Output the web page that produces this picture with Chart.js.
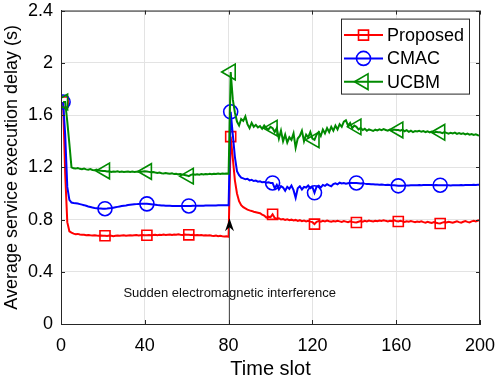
<!DOCTYPE html>
<html>
<head>
<meta charset="utf-8">
<script src="https://cdn.jsdelivr.net/npm/chart.js@4/dist/chart.umd.min.js"></script>
<style>
  html, body { margin: 0; padding: 0; background: #fff; }
  #wrap { width: 498px; height: 381px; }
</style>
</head>
<body>
<div id="wrap"><canvas id="delaychart"></canvas></div>
<script>
// time slots 1..200
const slots = Array.from({ length: 200 }, (_, i) => i + 1);

const proposed = [
  1.70, 1.15, 0.78, 0.71, 0.700, 0.692, 0.688, 0.690, 0.686, 0.684,
  0.683, 0.680, 0.682, 0.679, 0.678, 0.680, 0.677, 0.676, 0.678, 0.675,
  0.676, 0.674, 0.677, 0.675, 0.673, 0.676, 0.678, 0.675, 0.677, 0.679,
  0.676, 0.678, 0.680, 0.677, 0.679, 0.681, 0.678, 0.680, 0.682, 0.679,
  0.680, 0.682, 0.679, 0.681, 0.684, 0.680, 0.683, 0.681, 0.685, 0.682,
  0.684, 0.686, 0.682, 0.685, 0.683, 0.687, 0.684, 0.682, 0.685, 0.683,
  0.683, 0.681, 0.684, 0.680, 0.682, 0.679, 0.681, 0.678, 0.680, 0.677,
  0.679, 0.676, 0.674, 0.677, 0.673, 0.675, 0.672, 0.670, 0.671, 0.668,
  1.435, 1.27, 1.10, 1.00, 0.94, 0.91, 0.895, 0.885, 0.876, 0.870,
  0.866, 0.860, 0.856, 0.852, 0.848, 0.838, 0.830, 0.815, 0.822, 0.818,
  0.840, 0.812, 0.806, 0.810, 0.800, 0.804, 0.797, 0.802, 0.795, 0.799,
  0.793, 0.797, 0.790, 0.795, 0.788, 0.792, 0.786, 0.790, 0.784, 0.780,
  0.765, 0.782, 0.788, 0.784, 0.790, 0.786, 0.792, 0.787, 0.783, 0.789,
  0.785, 0.790, 0.786, 0.782, 0.788, 0.784, 0.780, 0.786, 0.782, 0.779,
  0.777, 0.783, 0.788, 0.784, 0.790, 0.786, 0.792, 0.788, 0.785, 0.791,
  0.787, 0.793, 0.789, 0.795, 0.790, 0.786, 0.791, 0.788, 0.794, 0.789,
  0.785, 0.790, 0.786, 0.781, 0.787, 0.783, 0.788, 0.784, 0.779, 0.785,
  0.781, 0.786, 0.780, 0.776, 0.782, 0.778, 0.774, 0.780, 0.776, 0.772,
  0.770, 0.776, 0.781, 0.777, 0.783, 0.779, 0.775, 0.781, 0.786, 0.780,
  0.776, 0.783, 0.788, 0.782, 0.778, 0.786, 0.790, 0.785, 0.792, 0.795
];

const cmac = [
  1.70, 1.45, 1.05, 0.95, 0.930, 0.926, 0.924, 0.922, 0.918, 0.914,
  0.910, 0.905, 0.900, 0.896, 0.892, 0.889, 0.887, 0.885, 0.884, 0.883,
  0.883, 0.884, 0.886, 0.888, 0.891, 0.894, 0.897, 0.900, 0.903, 0.906,
  0.908, 0.911, 0.913, 0.915, 0.917, 0.918, 0.919, 0.920, 0.921, 0.921,
  0.920, 0.919, 0.917, 0.915, 0.913, 0.911, 0.910, 0.908, 0.907, 0.906,
  0.905, 0.905, 0.904, 0.904, 0.904, 0.903, 0.903, 0.904, 0.904, 0.904,
  0.904, 0.904, 0.905, 0.905, 0.905, 0.906, 0.906, 0.906, 0.907, 0.907,
  0.907, 0.908, 0.908, 0.908, 0.909, 0.909, 0.909, 0.909, 0.910, 0.909,
  1.625, 1.45, 1.28, 1.17, 1.14, 1.12, 1.115, 1.108, 1.112, 1.100,
  1.104, 1.095, 1.098, 1.090, 1.093, 1.085, 1.088, 1.082, 1.086, 1.080,
  1.080, 1.040, 1.065, 1.030, 1.055, 1.045, 1.020, 1.050, 1.035, 1.060,
  1.025, 0.966, 1.040, 1.055, 1.030, 1.050, 1.045, 1.060, 1.040, 1.050,
  1.005, 1.052, 1.060, 1.045, 1.065, 1.058, 1.070, 1.062, 1.055, 1.072,
  1.078, 1.070, 1.082, 1.076, 1.080, 1.074, 1.078, 1.082, 1.080, 1.079,
  1.080, 1.078, 1.076, 1.078, 1.075, 1.073, 1.072, 1.070, 1.071, 1.069,
  1.068, 1.067, 1.068, 1.066, 1.065, 1.066, 1.064, 1.063, 1.062, 1.060,
  1.058, 1.058, 1.059, 1.060, 1.061, 1.060, 1.062, 1.063, 1.062, 1.063,
  1.064, 1.063, 1.064, 1.065, 1.064, 1.065, 1.064, 1.063, 1.064, 1.063,
  1.063, 1.062, 1.062, 1.063, 1.062, 1.061, 1.062, 1.063, 1.062, 1.063,
  1.064, 1.063, 1.064, 1.065, 1.064, 1.065, 1.066, 1.065, 1.066, 1.066
];

const ucbm = [
  1.70, 1.70, 1.55, 1.38, 1.20, 1.192, 1.190, 1.195, 1.188, 1.186,
  1.190, 1.184, 1.182, 1.186, 1.180, 1.178, 1.182, 1.176, 1.174, 1.172,
  1.172, 1.168, 1.170, 1.165, 1.168, 1.166, 1.169, 1.165, 1.167, 1.164,
  1.166, 1.168, 1.165, 1.167, 1.164, 1.166, 1.168, 1.165, 1.167, 1.169,
  1.168, 1.165, 1.162, 1.164, 1.160, 1.157, 1.160, 1.155, 1.152, 1.156,
  1.153, 1.150, 1.154, 1.148, 1.151, 1.146, 1.149, 1.144, 1.141, 1.138,
  1.132, 1.142, 1.146, 1.143, 1.147, 1.144, 1.148, 1.145, 1.149, 1.146,
  1.150, 1.147, 1.151, 1.148, 1.152, 1.149, 1.153, 1.150, 1.152, 1.151,
  1.930, 1.720, 1.620, 1.550, 1.520, 1.570, 1.555, 1.590, 1.530, 1.500,
  1.540, 1.510, 1.525, 1.505, 1.515, 1.495, 1.520, 1.500, 1.490, 1.510,
  1.500, 1.470, 1.500, 1.420, 1.480, 1.400, 1.450, 1.390, 1.430, 1.410,
  1.460, 1.350, 1.420, 1.440, 1.480, 1.400, 1.450, 1.430, 1.470, 1.420,
  1.410, 1.450, 1.470, 1.440, 1.490, 1.460, 1.500, 1.470, 1.510, 1.480,
  1.520, 1.490, 1.530, 1.510, 1.550, 1.560, 1.520, 1.540, 1.500, 1.520,
  1.510, 1.490, 1.500, 1.485, 1.495, 1.480, 1.490, 1.485, 1.478, 1.488,
  1.482, 1.490, 1.484, 1.492, 1.486, 1.480, 1.488, 1.483, 1.490, 1.486,
  1.486, 1.480, 1.488, 1.476, 1.484, 1.472, 1.480, 1.470, 1.478, 1.474,
  1.480, 1.472, 1.478, 1.470, 1.476, 1.468, 1.474, 1.466, 1.472, 1.468,
  1.468, 1.462, 1.470, 1.464, 1.458, 1.465, 1.460, 1.466, 1.456, 1.462,
  1.455, 1.460, 1.452, 1.458, 1.450, 1.455, 1.448, 1.452, 1.446, 1.443
];

const seriesNames = ['Proposed', 'CMAC', 'UCBM'];
const xTicks = [0, 40, 80, 120, 160, 200];
const yTicks = [0, 0.4, 0.8, 1.2, 1.6, 2, 2.4];

// annotation: interference event
const eventSlot = 80;
const arrowTip = 0.81;
const eventLabel = 'Sudden electromagnetic interference';
const eventLabelY = 0.235;

const FONT = "'Liberation Sans', Arial, Helvetica, sans-serif";
const AXIS = '#262626';

const toPoints = vals => slots.map((s, i) => ({ x: s, y: vals[i] }));
const markEvery = r => ctx => (ctx.dataIndex % 20 === 0 ? r : 0);

function drawMarker(c, style, x, y) {
  c.beginPath();
  if (style === 'rect') {
    c.rect(x - 5, y - 5, 10, 10);
  } else if (style === 'circle') {
    c.arc(x, y, 7, 0, Math.PI * 2);
  } else {
    c.moveTo(x - 9, y);
    c.lineTo(x + 4.5, y - 7.8);
    c.lineTo(x + 4.5, y + 7.8);
    c.closePath();
  }
  c.stroke();
}

const frame = {
  id: 'frame',
  afterDraw(chart) {
    const c = chart.ctx;
    const { left, right, top, bottom } = chart.chartArea;
    const { x, y } = chart.scales;
    c.save();
    c.strokeStyle = AXIS;
    c.lineWidth = 1;
    c.strokeRect(left + 0.5, top + 0.5, right - left - 1, bottom - top);
    c.beginPath();
    xTicks.forEach(v => {
      const px = Math.round(x.getPixelForValue(v)) + 0.5;
      c.moveTo(px, bottom); c.lineTo(px, bottom - 4);
      c.moveTo(px, top); c.lineTo(px, top + 4);
    });
    yTicks.forEach(v => {
      const py = Math.round(y.getPixelForValue(v)) + 0.5;
      c.moveTo(left, py); c.lineTo(left + 4, py);
      c.moveTo(right, py); c.lineTo(right - 4, py);
    });
    c.stroke();
    c.restore();
  }
};

const interference = {
  id: 'interference',
  afterDatasetsDraw(chart) {
    const c = chart.ctx;
    const { x, y } = chart.scales;
    const px = Math.round(x.getPixelForValue(eventSlot)) + 0.5;
    const yb = y.getPixelForValue(0);
    const yt = y.getPixelForValue(arrowTip);
    c.save();
    c.strokeStyle = '#555';
    c.lineWidth = 1;
    c.beginPath();
    c.moveTo(px, yb);
    c.lineTo(px, yt + 8);
    c.stroke();
    c.fillStyle = '#000';
    c.beginPath();
    c.moveTo(px, yt);
    c.lineTo(px + 4.5, yt + 13);
    c.lineTo(px, yt + 9);
    c.lineTo(px - 4.5, yt + 13);
    c.closePath();
    c.fill();
    c.font = '13px ' + FONT;
    c.fillStyle = '#111';
    c.textAlign = 'center';
    c.textBaseline = 'middle';
    c.fillText(eventLabel, x.getPixelForValue(eventSlot + 0.5), y.getPixelForValue(eventLabelY));
    c.restore();
  }
};

const legendBox = {
  id: 'legendBox',
  afterDatasetsDraw(chart) {
    const c = chart.ctx;
    const { right, top } = chart.chartArea;
    const w = 128, h = 75;
    const x0 = right - 11 - w, y0 = top + 8;
    c.save();
    c.fillStyle = '#fff';
    c.fillRect(x0, y0, w, h);
    c.strokeStyle = AXIS;
    c.lineWidth = 1;
    c.strokeRect(x0 + 0.5, y0 + 0.5, w, h);
    c.font = '18px ' + FONT;
    c.textBaseline = 'middle';
    chart.data.datasets.forEach((ds, i) => {
      const rowY = y0 + 16.5 + i * 23.3;
      c.strokeStyle = ds.borderColor;
      c.lineWidth = 2;
      c.beginPath();
      c.moveTo(x0 + 3, rowY);
      c.lineTo(x0 + 42, rowY);
      c.stroke();
      c.lineWidth = 1.6;
      drawMarker(c, ds.pointStyle, x0 + 22.5, rowY);
      c.fillStyle = '#000';
      c.fillText(ds.label, x0 + 46, rowY + 1);
    });
    c.restore();
  }
};

new Chart(document.getElementById('delaychart'), {
  type: 'line',
  plugins: [frame, interference, legendBox],
  data: {
    datasets: [{
      label: seriesNames[0],
      data: toPoints(proposed),
      borderColor: '#ff0000',
      borderWidth: 2,
      pointStyle: 'rect',
      pointRadius: markEvery(7.1),
      pointBorderWidth: 1.6,
      pointBorderColor: '#ff0000',
      pointBackgroundColor: 'rgba(0,0,0,0)',
      order: 3
    }, {
      label: seriesNames[1],
      data: toPoints(cmac),
      borderColor: '#0000ff',
      borderWidth: 2,
      pointStyle: 'circle',
      pointRadius: markEvery(7),
      pointBorderWidth: 1.6,
      pointBorderColor: '#0000ff',
      pointBackgroundColor: 'rgba(0,0,0,0)',
      order: 2
    }, {
      label: seriesNames[2],
      data: toPoints(ucbm),
      borderColor: '#008a00',
      borderWidth: 2,
      pointStyle: 'triangle',
      rotation: -90,
      pointRadius: markEvery(9),
      pointBorderWidth: 1.6,
      pointBorderColor: '#008a00',
      pointBackgroundColor: 'rgba(0,0,0,0)',
      order: 1
    }]
  },
  options: {
    responsive: true,
    maintainAspectRatio: false,
    animation: false,
    events: [],
    layout: { padding: { top: 8, right: 18, left: 0, bottom: 0 } },
    plugins: {
      legend: { display: false },
      tooltip: { enabled: false }
    },
    elements: { line: { tension: 0 } },
    scales: {
      x: {
        type: 'linear',
        min: 0,
        max: 200,
        afterFit: s => { s.height = 57; s.paddingLeft = 0; s.paddingRight = 0; },
        afterBuildTicks: s => { s.ticks = xTicks.map(v => ({ value: v })); },
        grid: { color: '#e3e3e3', drawTicks: false },
        border: { color: AXIS },
        ticks: { color: '#000', padding: 11, font: { family: FONT, size: 18 }, maxRotation: 0 },
        title: { display: true, text: 'Time slot', color: '#000', padding: { top: 0, bottom: 0 }, font: { family: FONT, size: 20 } }
      },
      y: {
        min: 0,
        max: 2.4,
        afterFit: s => { s.width = 61; s.paddingTop = 0; s.paddingBottom = 0; },
        afterBuildTicks: s => { s.ticks = yTicks.map(v => ({ value: v })); },
        grid: { color: '#e3e3e3', drawTicks: false },
        border: { color: AXIS },
        ticks: { color: '#000', padding: 8, font: { family: FONT, size: 18 }, callback: v => String(+v.toFixed(1)) },
        title: { display: true, text: 'Average service execution delay (s)', color: '#000', padding: { top: 1, bottom: 0 }, font: { family: FONT, size: 18 } }
      }
    }
  }
});
</script>
</body>
</html>
